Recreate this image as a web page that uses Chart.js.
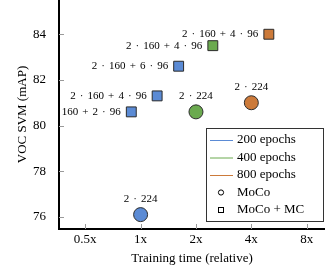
<!DOCTYPE html>
<html><head><meta charset="utf-8">
<script src="https://cdn.jsdelivr.net/npm/chart.js@4.4.0/dist/chart.umd.min.js"></script>
<style>html,body{margin:0;padding:0;background:#fff}#wrap{width:325px;height:271px;position:relative}</style>
</head><body><div id="wrap"><canvas id="c"></canvas></div>
<script>
// ---- data ----
const xTicks = [0.5, 1, 2, 4, 8];
const yTicks = [76, 78, 80, 82, 84];
const mocoTime = [1, 2, 4];
const mocoMAP = [76.1, 80.6, 81.0];
const mocoEpochs = [200, 400, 800];
const mocoNotes = ['2 · 224', '2 · 224', '2 · 224'];
const mc200Time = [0.89, 1.23, 1.61];
const mc200MAP = [80.6, 81.3, 82.6];
const mc200Notes = ['160 + 2 · 96', '2 · 160 + 4 · 96', '2 · 160 + 6 · 96'];
const mc400Time = [2.47];
const mc400MAP = [83.5];
const mc400Notes = ['2 · 160 + 4 · 96'];
const mc800Time = [4.98];
const mc800MAP = [84.0];
const mc800Notes = ['2 · 160 + 4 · 96'];
const legendEpochs = ['200 epochs', '400 epochs', '800 epochs'];
const legendMethods = ['MoCo', 'MoCo + MC'];

const epochColor = {200: '#5B8BD5', 400: '#6BAA4F', 800: '#CC7A3A'};
const SERIF = '"Liberation Serif", "DejaVu Serif", serif';

function pts(xs, ys) { return xs.map((x, i) => ({x: x, y: ys[i]})); }

const datasets = [
  {label: 'MoCo', data: pts(mocoTime, mocoMAP), notes: mocoNotes, pointStyle: 'circle',
   backgroundColor: mocoEpochs.map(e => epochColor[e])},
  {label: 'MoCo + MC 200', data: pts(mc200Time, mc200MAP), notes: mc200Notes, pointStyle: 'rect',
   backgroundColor: epochColor[200]},
  {label: 'MoCo + MC 400', data: pts(mc400Time, mc400MAP), notes: mc400Notes, pointStyle: 'rect',
   backgroundColor: epochColor[400]},
  {label: 'MoCo + MC 800', data: pts(mc800Time, mc800MAP), notes: mc800Notes, pointStyle: 'rect',
   backgroundColor: epochColor[800]}
].map(d => Object.assign(d, {pointRadius: 7, pointHoverRadius: 7, borderColor: '#2b2b2b', borderWidth: 1, showLine: false}));

const innerTicks = {
  id: 'innerTicks',
  beforeDatasetsDraw(chart) {
    const {ctx, chartArea: a, scales: {x, y}} = chart;
    ctx.save();
    ctx.strokeStyle = '#9a9a9a';
    ctx.lineWidth = 1;
    ctx.beginPath();
    x.ticks.forEach(t => { const p = Math.round(x.getPixelForValue(t.value)) + 0.5; ctx.moveTo(p, a.bottom); ctx.lineTo(p, a.bottom - 5); });
    y.ticks.forEach(t => { const p = Math.round(y.getPixelForValue(t.value)) + 0.5; ctx.moveTo(a.left, p); ctx.lineTo(a.left + 5, p); });
    ctx.stroke();
    ctx.restore();
  }
};

const pointNotes = {
  id: 'pointNotes',
  afterDatasetsDraw(chart) {
    const ctx = chart.ctx;
    ctx.save();
    ctx.fillStyle = '#000';
    ctx.font = '11px ' + SERIF;
    ctx.wordSpacing = '1.3px';
    ctx.textBaseline = 'middle';
    chart.data.datasets.forEach((ds, di) => {
      chart.getDatasetMeta(di).data.forEach((el, i) => {
        const txt = ds.notes[i];
        if (ds.pointStyle === 'circle') { ctx.textAlign = 'center'; ctx.fillText(txt, el.x, el.y - 16); }
        else { ctx.textAlign = 'right'; ctx.fillText(txt, el.x - 10.5, el.y); }
      });
    });
    ctx.restore();
  }
};

const boxLegend = {
  id: 'boxLegend',
  afterDraw(chart) {
    const ctx = chart.ctx;
    const L = 206.5, T = 128.5, W = 117, H = 93;
    ctx.save();
    ctx.fillStyle = '#fff';
    ctx.fillRect(L, T, W, H);
    ctx.strokeStyle = '#333';
    ctx.lineWidth = 1;
    ctx.strokeRect(L, T, W, H);
    ctx.font = '13px ' + SERIF;
    ctx.textBaseline = 'middle';
    ctx.textAlign = 'left';
    const rows = [140, 157.5, 175, 192.5, 210];
    const cols = [200, 400, 800];
    legendEpochs.forEach((t, i) => {
      ctx.strokeStyle = epochColor[cols[i]];
      ctx.beginPath(); ctx.moveTo(210, rows[i] + 0.5); ctx.lineTo(233, rows[i] + 0.5); ctx.stroke();
      ctx.fillStyle = '#000'; ctx.fillText(t, 237, rows[i]);
    });
    ctx.strokeStyle = '#000';
    ctx.beginPath(); ctx.arc(221, rows[3], 2.6, 0, Math.PI * 2); ctx.stroke();
    ctx.strokeRect(218.5, rows[4] - 2.5, 5, 5);
    ctx.fillStyle = '#000';
    ctx.fillText(legendMethods[0], 237, rows[3]);
    ctx.fillText(legendMethods[1], 237, rows[4]);
    ctx.restore();
  }
};

function noPad(s) { s.paddingTop = 0; s.paddingBottom = 0; s.paddingLeft = 0; s.paddingRight = 0; }

new Chart(document.getElementById('c'), {
  type: 'scatter',
  data: {datasets},
  plugins: [innerTicks, pointNotes, boxLegend],
  options: {
    responsive: true, maintainAspectRatio: false, animation: false,
    layout: {padding: 0, autoPadding: false},
    plugins: {legend: {display: false}, tooltip: {enabled: false}},
    scales: {
      x: {
        type: 'logarithmic', min: 0.36, max: 10.06,
        afterBuildTicks: s => { s.ticks = xTicks.map(v => ({value: v})); },
        afterFit: s => { s.height = 42; noPad(s); },
        ticks: {callback: v => v + 'x', color: '#000', font: {family: SERIF, size: 13}, padding: 3, autoSkip: false, maxRotation: 0},
        grid: {drawOnChartArea: false, drawTicks: false},
        border: {color: '#000', width: 2},
        title: {display: true, text: 'Training time (relative)', color: '#000', font: {family: SERIF, size: 13}, padding: {top: 0, bottom: 5}}
      },
      y: {
        min: 75.47, max: 85.5,
        afterBuildTicks: s => { s.ticks = yTicks.map(v => ({value: v})); },
        afterFit: s => { s.width = 59; noPad(s); },
        ticks: {color: '#000', font: {family: SERIF, size: 13}, padding: 13},
        grid: {drawOnChartArea: false, drawTicks: false},
        border: {color: '#000', width: 2},
        title: {display: true, text: 'VOC SVM (mAP)', color: '#000', font: {family: SERIF, size: 13}, padding: {top: 15, bottom: 0}}
      }
    }
  }
});
</script></body></html>
